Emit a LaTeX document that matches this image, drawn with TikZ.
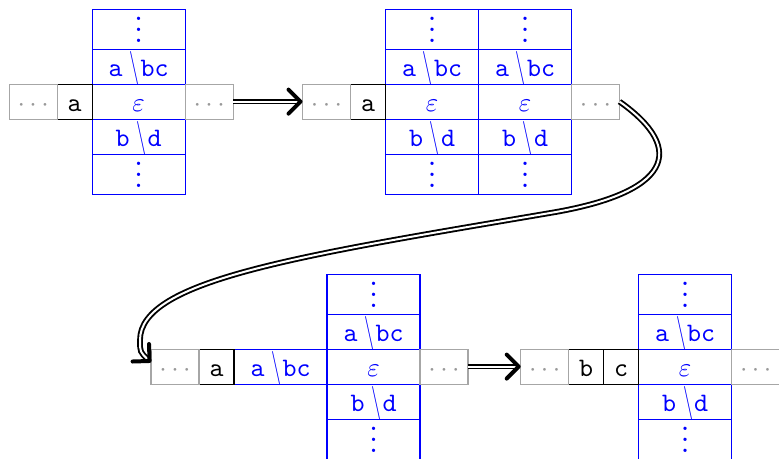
\documentclass[tikz,border=0pt]{standalone}
\usepackage{graphicx}
\usetikzlibrary{arrows.meta}
\newcommand{\stackdots}{\vbox{\baselineskip4pt\lineskiplimit0pt\hbox{.}\hbox{.}\hbox{.}}}
\newcommand{\rulebs}{\kern2.6pt\scalebox{0.75}[1.25]{$\backslash$}\kern0.4pt}
\begin{document}
\begin{tikzpicture}[x=0.375pt, y=-0.375pt,
  cell/.style={draw=blue, text=blue, minimum width=34.875pt, minimum height=13.125pt,
    inner sep=0pt, outer sep=0pt, text height=9.125pt, text depth=2pt, font=\ttfamily},
  endcell/.style={cell, minimum height=15pt, text height=9.9pt, text depth=0pt},
  tdots/.style={draw=black!35, text=black!40, minimum width=18pt, minimum height=13.125pt,
    inner sep=0pt, outer sep=0pt, text height=9.125pt, text depth=2pt},
  tcell/.style={draw=black, text=black, minimum width=13.125pt, minimum height=13.125pt,
    inner sep=0pt, outer sep=0pt, text height=9.125pt, text depth=2pt, font=\ttfamily},
  dbl/.style={double, line width=0.7pt, double distance=0.75pt,
    -{Straight Barb[length=4.5pt, width=9pt, line width'=1.5pt, round]}}
]
\useasboundingbox (0,0) rectangle (779,458);
\clip (0,0) rectangle (779,458);

% ---------- configuration 1 ----------
\node[cell] (e1) at (138.7,101.6) {$\varepsilon$};
\node[cell, anchor=south] (u1) at (e1.north) {a\rulebs bc};
\node[endcell, anchor=south] (v1) at (u1.north) {\stackdots};
\node[cell, anchor=north] (d1) at (e1.south) {b\rulebs d};
\node[endcell, anchor=north] (w1) at (d1.south) {\stackdots};
\node[tcell, anchor=east] (ta1) at (e1.west) {a};
\node[tdots, anchor=east] (tl1) at (ta1.west) {$\cdots$};
\node[tdots, anchor=west] (tr1) at (e1.east) {$\cdots$};

% ---------- configuration 2 ----------
\node[cell] (e2a) at (432,101.6) {$\varepsilon$};
\node[cell, anchor=south] (u2a) at (e2a.north) {a\rulebs bc};
\node[endcell, anchor=south] (v2a) at (u2a.north) {\stackdots};
\node[cell, anchor=north] (d2a) at (e2a.south) {b\rulebs d};
\node[endcell, anchor=north] (w2a) at (d2a.south) {\stackdots};
\node[cell, anchor=west] (e2b) at (e2a.east) {$\varepsilon$};
\node[cell, anchor=south] (u2b) at (e2b.north) {a\rulebs bc};
\node[endcell, anchor=south] (v2b) at (u2b.north) {\stackdots};
\node[cell, anchor=north] (d2b) at (e2b.south) {b\rulebs d};
\node[endcell, anchor=north] (w2b) at (d2b.south) {\stackdots};
\node[tcell, anchor=east] (ta2) at (e2a.west) {a};
\node[tdots, anchor=east] (tl2) at (ta2.west) {$\cdots$};
\node[tdots, anchor=west] (tr2) at (e2b.east) {$\cdots$};

% ---------- configuration 3 ----------
\node[cell] (e3) at (373.5,366.6) {$\varepsilon$};
\node[cell, anchor=south] (u3) at (e3.north) {a\rulebs bc};
\node[endcell, anchor=south] (v3) at (u3.north) {\stackdots};
\node[cell, anchor=north] (d3) at (e3.south) {b\rulebs d};
\node[endcell, anchor=north] (w3) at (d3.south) {\stackdots};
\node[cell, anchor=east] (x3) at (e3.west) {a\rulebs bc};
\node[tcell, anchor=east] (ta3) at (x3.west) {a};
\node[tdots, anchor=east] (tl3) at (ta3.west) {$\cdots$};
\node[tdots, anchor=west] (tr3) at (e3.east) {$\cdots$};

% ---------- configuration 4 ----------
\node[cell] (e4) at (685.2,366.6) {$\varepsilon$};
\node[cell, anchor=south] (u4) at (e4.north) {a\rulebs bc};
\node[endcell, anchor=south] (v4) at (u4.north) {\stackdots};
\node[cell, anchor=north] (d4) at (e4.south) {b\rulebs d};
\node[endcell, anchor=north] (w4) at (d4.south) {\stackdots};
\node[tcell, anchor=east] (tc4) at (e4.west) {c};
\node[tcell, anchor=east] (tb4) at (tc4.west) {b};
\node[tdots, anchor=east] (tl4) at (tb4.west) {$\cdots$};
\node[tdots, anchor=west] (tr4) at (e4.east) {$\cdots$};

% ---------- transitions ----------
\coordinate (mid) at (550,213);
\coordinate (low) at (140,340);
\draw[dbl] (tr1.east) -- (tl2.west);
\draw[dbl] (tr2.east) .. controls (688,150) and (670,193) .. (mid)
                      .. controls (300,255.5) and (140,280) .. (low)
                      .. controls (140,352) .. ([yshift=1.6pt]tl3.west);
\draw[dbl] (tr3.east) -- (tl4.west);
\end{tikzpicture}
\end{document}
